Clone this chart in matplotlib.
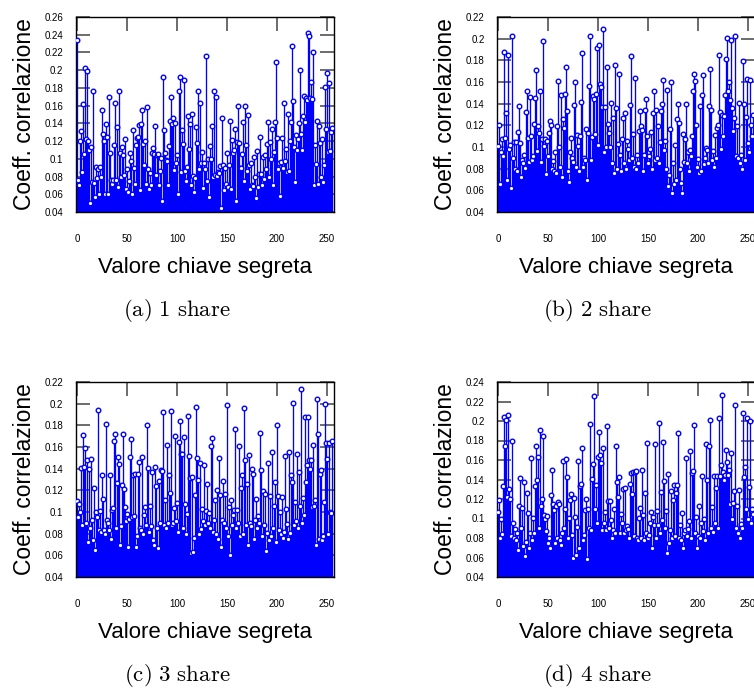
import matplotlib
matplotlib.use("Agg")
import matplotlib.pyplot as plt
import numpy as np

plt.rcParams["font.family"] = ["Liberation Sans", "DejaVu Sans"]
plt.rcParams["mathtext.fontset"] = "cm"

# correlation coefficient for each of the 256 key guesses, one array per share count
key_values = list(range(256))

corr_1share = [
    0.234, 0.076, 0.070, 0.120, 0.131, 0.085, 0.162, 0.105, 0.203, 0.122, 0.199, 0.120, 0.110, 0.050, 0.113, 0.074,
    0.176, 0.073, 0.057, 0.091, 0.078, 0.088, 0.060, 0.091, 0.080, 0.155, 0.128, 0.120, 0.060, 0.139, 0.125, 0.060,
    0.170, 0.106, 0.076, 0.072, 0.076, 0.116, 0.163, 0.076, 0.136, 0.068, 0.176, 0.107, 0.080, 0.113, 0.104, 0.082,
    0.122, 0.066, 0.088, 0.062, 0.075, 0.107, 0.098, 0.060, 0.133, 0.090, 0.072, 0.116, 0.124, 0.125, 0.138, 0.065,
    0.139, 0.155, 0.117, 0.093, 0.120, 0.072, 0.158, 0.088, 0.066, 0.084, 0.070, 0.107, 0.112, 0.105, 0.137, 0.082,
    0.104, 0.105, 0.070, 0.086, 0.101, 0.052, 0.192, 0.133, 0.107, 0.099, 0.098, 0.070, 0.114, 0.143, 0.170, 0.139,
    0.146, 0.087, 0.140, 0.095, 0.104, 0.060, 0.177, 0.192, 0.085, 0.133, 0.117, 0.189, 0.086, 0.075, 0.091, 0.148,
    0.111, 0.139, 0.070, 0.150, 0.081, 0.062, 0.078, 0.136, 0.118, 0.177, 0.088, 0.163, 0.095, 0.108, 0.067, 0.095,
    0.088, 0.216, 0.075, 0.100, 0.057, 0.115, 0.100, 0.137, 0.080, 0.176, 0.082, 0.170, 0.081, 0.085, 0.084, 0.092,
    0.045, 0.146, 0.093, 0.065, 0.090, 0.072, 0.106, 0.068, 0.093, 0.143, 0.066, 0.121, 0.107, 0.110, 0.134, 0.052,
    0.119, 0.160, 0.118, 0.090, 0.090, 0.105, 0.142, 0.075, 0.160, 0.116, 0.086, 0.149, 0.093, 0.066, 0.095, 0.070,
    0.069, 0.102, 0.079, 0.056, 0.109, 0.068, 0.083, 0.125, 0.083, 0.070, 0.102, 0.077, 0.104, 0.088, 0.117, 0.141,
    0.080, 0.119, 0.100, 0.134, 0.070, 0.108, 0.142, 0.209, 0.124, 0.088, 0.095, 0.058, 0.096, 0.123, 0.090, 0.163,
    0.097, 0.111, 0.085, 0.150, 0.086, 0.120, 0.141, 0.227, 0.165, 0.113, 0.074, 0.127, 0.110, 0.122, 0.140, 0.200,
    0.128, 0.110, 0.148, 0.171, 0.142, 0.169, 0.166, 0.242, 0.238, 0.169, 0.187, 0.168, 0.220, 0.070, 0.116, 0.094,
    0.143, 0.072, 0.137, 0.118, 0.079, 0.122, 0.074, 0.093, 0.181, 0.134, 0.197, 0.108, 0.186, 0.109, 0.130, 0.135,
]

corr_2share = [
    0.101, 0.120, 0.066, 0.095, 0.107, 0.092, 0.188, 0.108, 0.131, 0.070, 0.185, 0.098, 0.102, 0.062, 0.202, 0.090,
    0.105, 0.080, 0.105, 0.078, 0.114, 0.138, 0.104, 0.072, 0.088, 0.085, 0.093, 0.081, 0.132, 0.152, 0.108, 0.086,
    0.146, 0.110, 0.088, 0.092, 0.121, 0.145, 0.171, 0.096, 0.119, 0.113, 0.152, 0.086, 0.107, 0.198, 0.101, 0.107,
    0.075, 0.106, 0.092, 0.113, 0.124, 0.120, 0.080, 0.087, 0.078, 0.095, 0.076, 0.119, 0.161, 0.100, 0.082, 0.148,
    0.072, 0.126, 0.118, 0.149, 0.174, 0.133, 0.078, 0.068, 0.095, 0.108, 0.090, 0.086, 0.139, 0.160, 0.082, 0.111,
    0.101, 0.078, 0.110, 0.142, 0.187, 0.082, 0.090, 0.088, 0.117, 0.070, 0.113, 0.156, 0.202, 0.088, 0.109, 0.147,
    0.144, 0.112, 0.149, 0.191, 0.102, 0.194, 0.158, 0.155, 0.137, 0.209, 0.095, 0.137, 0.100, 0.174, 0.121, 0.113,
    0.100, 0.141, 0.085, 0.127, 0.076, 0.176, 0.136, 0.080, 0.103, 0.167, 0.093, 0.078, 0.107, 0.127, 0.085, 0.131,
    0.080, 0.106, 0.098, 0.088, 0.139, 0.184, 0.090, 0.112, 0.082, 0.164, 0.080, 0.093, 0.085, 0.115, 0.133, 0.119,
    0.116, 0.078, 0.093, 0.134, 0.144, 0.110, 0.085, 0.092, 0.098, 0.114, 0.080, 0.131, 0.152, 0.088, 0.134, 0.090,
    0.119, 0.085, 0.105, 0.133, 0.140, 0.162, 0.097, 0.106, 0.080, 0.153, 0.064, 0.074, 0.117, 0.160, 0.058, 0.085,
    0.066, 0.102, 0.070, 0.126, 0.140, 0.122, 0.080, 0.067, 0.058, 0.112, 0.086, 0.107, 0.140, 0.085, 0.095, 0.078,
    0.097, 0.092, 0.110, 0.152, 0.167, 0.161, 0.120, 0.082, 0.089, 0.076, 0.138, 0.078, 0.148, 0.166, 0.084, 0.090,
    0.099, 0.097, 0.085, 0.138, 0.172, 0.134, 0.088, 0.096, 0.082, 0.111, 0.090, 0.118, 0.120, 0.185, 0.132, 0.098,
    0.130, 0.110, 0.129, 0.148, 0.181, 0.201, 0.152, 0.160, 0.143, 0.199, 0.136, 0.115, 0.127, 0.202, 0.092, 0.119,
    0.090, 0.141, 0.085, 0.093, 0.080, 0.179, 0.140, 0.088, 0.128, 0.163, 0.104, 0.095, 0.162, 0.120, 0.110, 0.130,
]

corr_3share = [
    0.110, 0.095, 0.107, 0.100, 0.141, 0.088, 0.171, 0.142, 0.159, 0.090, 0.148, 0.072, 0.140, 0.085, 0.149, 0.093,
    0.074, 0.122, 0.065, 0.100, 0.095, 0.194, 0.083, 0.101, 0.082, 0.134, 0.112, 0.083, 0.080, 0.181, 0.093, 0.090,
    0.083, 0.134, 0.075, 0.102, 0.104, 0.166, 0.172, 0.085, 0.127, 0.151, 0.144, 0.070, 0.087, 0.125, 0.172, 0.121,
    0.105, 0.092, 0.098, 0.068, 0.094, 0.151, 0.167, 0.095, 0.134, 0.096, 0.135, 0.068, 0.078, 0.135, 0.146, 0.085,
    0.083, 0.151, 0.080, 0.097, 0.105, 0.088, 0.180, 0.141, 0.082, 0.106, 0.087, 0.137, 0.074, 0.070, 0.142, 0.124,
    0.085, 0.067, 0.129, 0.090, 0.139, 0.138, 0.192, 0.088, 0.111, 0.085, 0.162, 0.090, 0.134, 0.118, 0.193, 0.088,
    0.090, 0.104, 0.170, 0.092, 0.108, 0.082, 0.165, 0.184, 0.154, 0.154, 0.085, 0.169, 0.107, 0.080, 0.098, 0.189,
    0.152, 0.131, 0.062, 0.132, 0.063, 0.076, 0.116, 0.197, 0.150, 0.130, 0.080, 0.145, 0.084, 0.103, 0.092, 0.143,
    0.088, 0.101, 0.126, 0.090, 0.099, 0.085, 0.161, 0.168, 0.082, 0.093, 0.111, 0.080, 0.120, 0.075, 0.150, 0.116,
    0.068, 0.093, 0.129, 0.090, 0.117, 0.085, 0.199, 0.078, 0.105, 0.060, 0.111, 0.088, 0.097, 0.102, 0.177, 0.085,
    0.102, 0.090, 0.161, 0.078, 0.122, 0.134, 0.080, 0.196, 0.148, 0.088, 0.126, 0.070, 0.153, 0.090, 0.087, 0.140,
    0.135, 0.075, 0.093, 0.112, 0.085, 0.096, 0.090, 0.173, 0.139, 0.078, 0.119, 0.088, 0.117, 0.064, 0.081, 0.145,
    0.074, 0.115, 0.078, 0.155, 0.085, 0.106, 0.128, 0.072, 0.180, 0.115, 0.083, 0.100, 0.080, 0.114, 0.076, 0.082,
    0.152, 0.103, 0.089, 0.075, 0.155, 0.081, 0.134, 0.128, 0.201, 0.088, 0.109, 0.092, 0.154, 0.085, 0.137, 0.106,
    0.214, 0.090, 0.113, 0.097, 0.188, 0.128, 0.143, 0.188, 0.148, 0.140, 0.148, 0.105, 0.162, 0.106, 0.111, 0.070,
    0.204, 0.172, 0.075, 0.135, 0.139, 0.074, 0.078, 0.109, 0.200, 0.164, 0.149, 0.080, 0.164, 0.100, 0.099, 0.166,
]

corr_4share = [
    0.107, 0.119, 0.080, 0.100, 0.084, 0.133, 0.204, 0.174, 0.201, 0.122, 0.206, 0.130, 0.120, 0.082, 0.180, 0.095,
    0.080, 0.089, 0.078, 0.085, 0.068, 0.113, 0.142, 0.090, 0.111, 0.072, 0.137, 0.062, 0.076, 0.126, 0.106, 0.070,
    0.085, 0.162, 0.078, 0.101, 0.085, 0.133, 0.174, 0.139, 0.163, 0.090, 0.191, 0.113, 0.120, 0.185, 0.104, 0.100,
    0.087, 0.103, 0.075, 0.080, 0.070, 0.124, 0.150, 0.115, 0.109, 0.075, 0.113, 0.080, 0.117, 0.115, 0.078, 0.073,
    0.085, 0.159, 0.090, 0.110, 0.161, 0.143, 0.080, 0.101, 0.119, 0.125, 0.083, 0.060, 0.121, 0.102, 0.063, 0.091,
    0.159, 0.070, 0.133, 0.135, 0.172, 0.078, 0.083, 0.109, 0.120, 0.058, 0.110, 0.090, 0.197, 0.088, 0.141, 0.156,
    0.226, 0.110, 0.134, 0.095, 0.163, 0.189, 0.165, 0.157, 0.088, 0.172, 0.095, 0.107, 0.088, 0.195, 0.118, 0.090,
    0.118, 0.098, 0.080, 0.088, 0.110, 0.085, 0.174, 0.137, 0.122, 0.143, 0.085, 0.105, 0.095, 0.130, 0.085, 0.131,
    0.088, 0.092, 0.089, 0.080, 0.135, 0.147, 0.125, 0.148, 0.082, 0.148, 0.149, 0.080, 0.078, 0.101, 0.111, 0.080,
    0.150, 0.104, 0.078, 0.126, 0.085, 0.177, 0.080, 0.083, 0.095, 0.107, 0.070, 0.102, 0.093, 0.176, 0.080, 0.108,
    0.093, 0.198, 0.085, 0.127, 0.098, 0.178, 0.138, 0.090, 0.108, 0.065, 0.146, 0.075, 0.088, 0.128, 0.080, 0.119,
    0.134, 0.082, 0.126, 0.134, 0.188, 0.080, 0.093, 0.078, 0.106, 0.070, 0.085, 0.088, 0.162, 0.082, 0.089, 0.097,
    0.169, 0.080, 0.147, 0.149, 0.196, 0.085, 0.102, 0.070, 0.082, 0.113, 0.080, 0.095, 0.144, 0.087, 0.099, 0.078,
    0.176, 0.140, 0.085, 0.174, 0.201, 0.090, 0.112, 0.086, 0.144, 0.095, 0.131, 0.144, 0.090, 0.203, 0.144, 0.155,
    0.227, 0.148, 0.140, 0.145, 0.170, 0.158, 0.145, 0.150, 0.115, 0.167, 0.100, 0.116, 0.128, 0.216, 0.090, 0.113,
    0.085, 0.129, 0.080, 0.094, 0.090, 0.208, 0.143, 0.153, 0.110, 0.203, 0.100, 0.132, 0.200, 0.095, 0.110, 0.105,
]

captions = ["(a) 1 share", "(b) 2 share", "(c) 3 share", "(d) 4 share"]
y_tops = [0.26, 0.22, 0.22, 0.24]
series = [corr_1share, corr_2share, corr_3share, corr_4share]

W, H = 754, 691
# axes boxes in pixels: (left, top); all 258 x 195, right column runs off the page
BOXES = [(76, 17), (497, 17), (76, 382), (497, 382)]
AX_W, AX_H = 258, 195
BLUE = "#0000ff"
TICK_COLOR = "#444444"


def fmt(v, _pos=None):
    return f"{v:g}"


fig = plt.figure(figsize=(W / 100, H / 100), dpi=100)

for (left, top), vals, ytop, cap in zip(BOXES, series, y_tops, captions):
    ax = fig.add_axes([left / W, (H - top - AX_H) / H, AX_W / W, AX_H / H])
    x = np.asarray(key_values)
    y = np.asarray(vals)
    ax.vlines(x, 0.0, y, color=BLUE, lw=0.95)
    ax.plot(x, y, "o", ms=3.3, mfc="white", mec=BLUE, mew=1.0, zorder=3)

    # one pixel per key value, so the stems tile evenly
    ax.set_xlim(-1, 257)
    ax.set_ylim(0.04, ytop)
    ax.set_xticks([0, 50, 100, 150, 200, 250])
    ax.set_yticks(np.arange(0.04, ytop + 1e-9, 0.02))
    ax.yaxis.set_major_formatter(plt.FuncFormatter(fmt))

    ax.tick_params(axis="y", which="both", direction="in", length=10, width=1.1,
                   color=TICK_COLOR, left=True, right=True, labelsize=7, pad=9)
    ax.tick_params(axis="x", which="both", direction="in", length=10, width=1.1,
                   color=TICK_COLOR, top=True, bottom=False, labelsize=7, pad=16)
    for sp in ax.spines.values():
        sp.set_linewidth(1.0)
        sp.set_color("black")

    ax.text(-0.198, 0.5, "Coeff. correlazione", transform=ax.transAxes,
            rotation=90, ha="center", va="center", fontsize=16.5)
    ax.text(0.5, -0.287, "Valore chiave segreta", transform=ax.transAxes,
            ha="center", va="center", fontsize=16)
    ax.text(0.391, -0.505, "$\\mathrm{" + cap.replace(" ", "\\ ") + "}$",
            transform=ax.transAxes, ha="center", va="center", fontsize=16.5)

fig.savefig("out.png", dpi=100)
